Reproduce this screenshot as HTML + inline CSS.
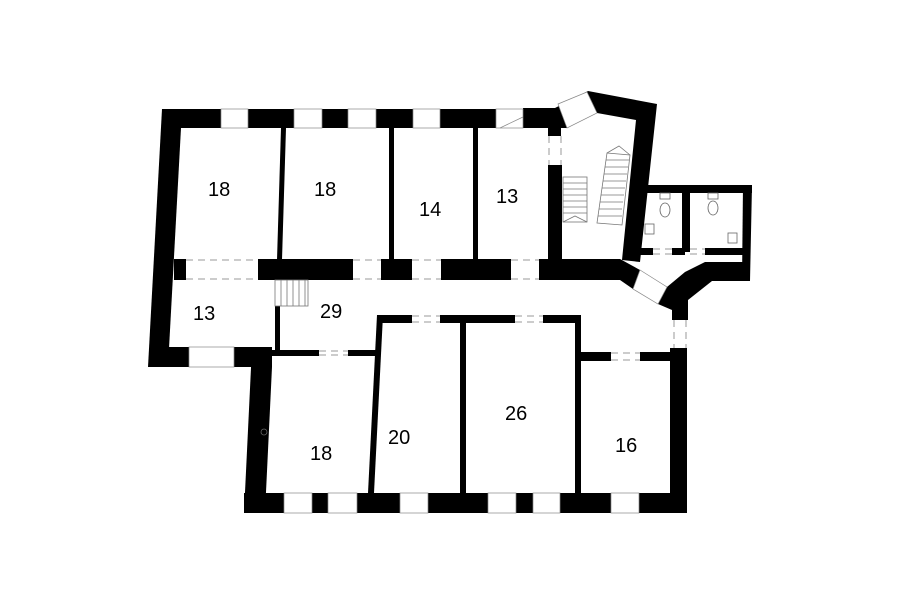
<!DOCTYPE html>
<html><head><meta charset="utf-8"><style>
html,body{margin:0;padding:0;background:#fff;width:900px;height:604px;overflow:hidden}
text{font-family:"Liberation Sans",sans-serif;font-size:20px;fill:#000}
</style></head><body>
<svg width="900" height="604" viewBox="0 0 900 604" xmlns="http://www.w3.org/2000/svg">
<g fill="#000">
<rect x="162" y="109" width="388" height="19"/>
<polygon points="162,109 181,109 181,128 168,367 148,367"/>
<rect x="150" y="347" width="122" height="20"/>
<polygon points="252,347 272,347 272,367 265,513 244,513"/>
<polygon points="281,128 286,128 282,260 277,260"/>
<rect x="389" y="128" width="5" height="132"/>
<rect x="473" y="128" width="5" height="132"/>
<rect x="548" y="128" width="13" height="8"/>
<rect x="548" y="165" width="14" height="96"/>
<rect x="174" y="259" width="12" height="21"/>
<rect x="258" y="259" width="95" height="21"/>
<rect x="381" y="259" width="31" height="21"/>
<rect x="441" y="259" width="70" height="21"/>
<polygon points="539,259 620,259 640,270 633,289 620,280 539,280"/>
<polygon points="523,108 555,108 588,91 657,104 640,262 622,260 636,120 597,113 567,128 523,128"/>
<polygon points="667,287 685,272 705,262 745,262 743,281 712,281 688,300 688,320 672,320 672,310 658,304"/>
<rect x="647" y="185" width="105" height="8"/>
<polygon points="743,185 752,185 750,281 742,281"/>
<rect x="682" y="192" width="8" height="60"/>
<rect x="640" y="248" width="13" height="7"/>
<rect x="672" y="248" width="13" height="7"/>
<rect x="705" y="248" width="38" height="7"/>
<rect x="670" y="348" width="17" height="165"/>
<rect x="244" y="493" width="439" height="20"/>
<rect x="377" y="315" width="35" height="8"/>
<rect x="440" y="315" width="75" height="8"/>
<rect x="543" y="315" width="38" height="8"/>
<polygon points="377,315 383,315 374,493 368,493"/>
<rect x="460" y="315" width="6" height="178"/>
<rect x="575" y="315" width="6" height="178"/>
<rect x="581" y="352" width="30" height="9"/>
<rect x="640" y="352" width="30" height="9"/>
<rect x="272" y="350" width="47" height="6"/>
<rect x="348" y="350" width="30" height="6"/>
<rect x="275" y="306" width="5" height="44"/>
</g>
<g fill="#fff" stroke="#888" stroke-width="0.7">
<rect x="221" y="109" width="27" height="19"/>
<rect x="294" y="109" width="28" height="19"/>
<rect x="348" y="109" width="28" height="19"/>
<rect x="413" y="109" width="27" height="19"/>
<rect x="496" y="109" width="27" height="19"/>
<rect x="189" y="347" width="45" height="20"/>
<rect x="284" y="493" width="28" height="20"/>
<rect x="328" y="493" width="29" height="20"/>
<rect x="400" y="493" width="28" height="20"/>
<rect x="488" y="493" width="28" height="20"/>
<rect x="533" y="493" width="27" height="20"/>
<rect x="611" y="493" width="28" height="20"/>
<polygon points="558,104 587,92 597,113 567,128"/>
<polygon points="640,270 667,287 658,304 633,289"/>
</g>
<line x1="500" y1="128" x2="523" y2="117" stroke="#888" stroke-width="0.7"/>
<g stroke="#999" stroke-width="1" stroke-dasharray="7,5" fill="none">
<path d="M186 260H258M186 279H258M353 260H381M353 279H381M412 260H441M412 279H441M511 260H539M511 279H539"/>
<path d="M549 136V165M561 136V165"/>
<path d="M412 316H440M412 322H440M515 316H543M515 322H543M319 351H348M319 355H348M611 353H640M611 360H640"/>
<path d="M674 320V348M686 320V348M653 249H672M653 254H672M690 249H705M690 254H705"/>
</g>
<g stroke="#777" stroke-width="0.8" fill="none">
<rect x="275" y="280" width="33" height="26"/>
<path d="M281 280V306M287 280V306M293 280V306M299 280V306M305 280V306"/>
<rect x="563" y="177" width="24" height="45"/>
<path d="M563 183H587M563 189H587M563 195H587M563 201H587M563 207H587M563 213H587M563 222L575 216L587 222"/>
<polygon points="607,153 630,155 622,225 597,223"/>
<path d="M606 160H629M605 167H628M604 174H627M603 181H626M602 188H625M601 195H624M600 202H623M599 209H622M598 216H622M607 153L619 146L630 155"/>
</g>
<g stroke="#666" stroke-width="0.8" fill="none">
<ellipse cx="665" cy="210" rx="5" ry="7"/><rect x="660" y="193" width="10" height="6"/>
<ellipse cx="713" cy="208" rx="5" ry="7"/><rect x="708" y="193" width="10" height="6"/>
<rect x="645" y="224" width="9" height="10"/>
<rect x="728" y="233" width="9" height="10"/>
<circle cx="264" cy="432" r="3"/>
</g>
<text x="208" y="196">18</text>
<text x="314" y="196">18</text>
<text x="419" y="216">14</text>
<text x="496" y="203">13</text>
<text x="193" y="320">13</text>
<text x="320" y="318">29</text>
<text x="310" y="460">18</text>
<text x="388" y="444">20</text>
<text x="505" y="420">26</text>
<text x="615" y="452">16</text>
</svg>
</body></html>
